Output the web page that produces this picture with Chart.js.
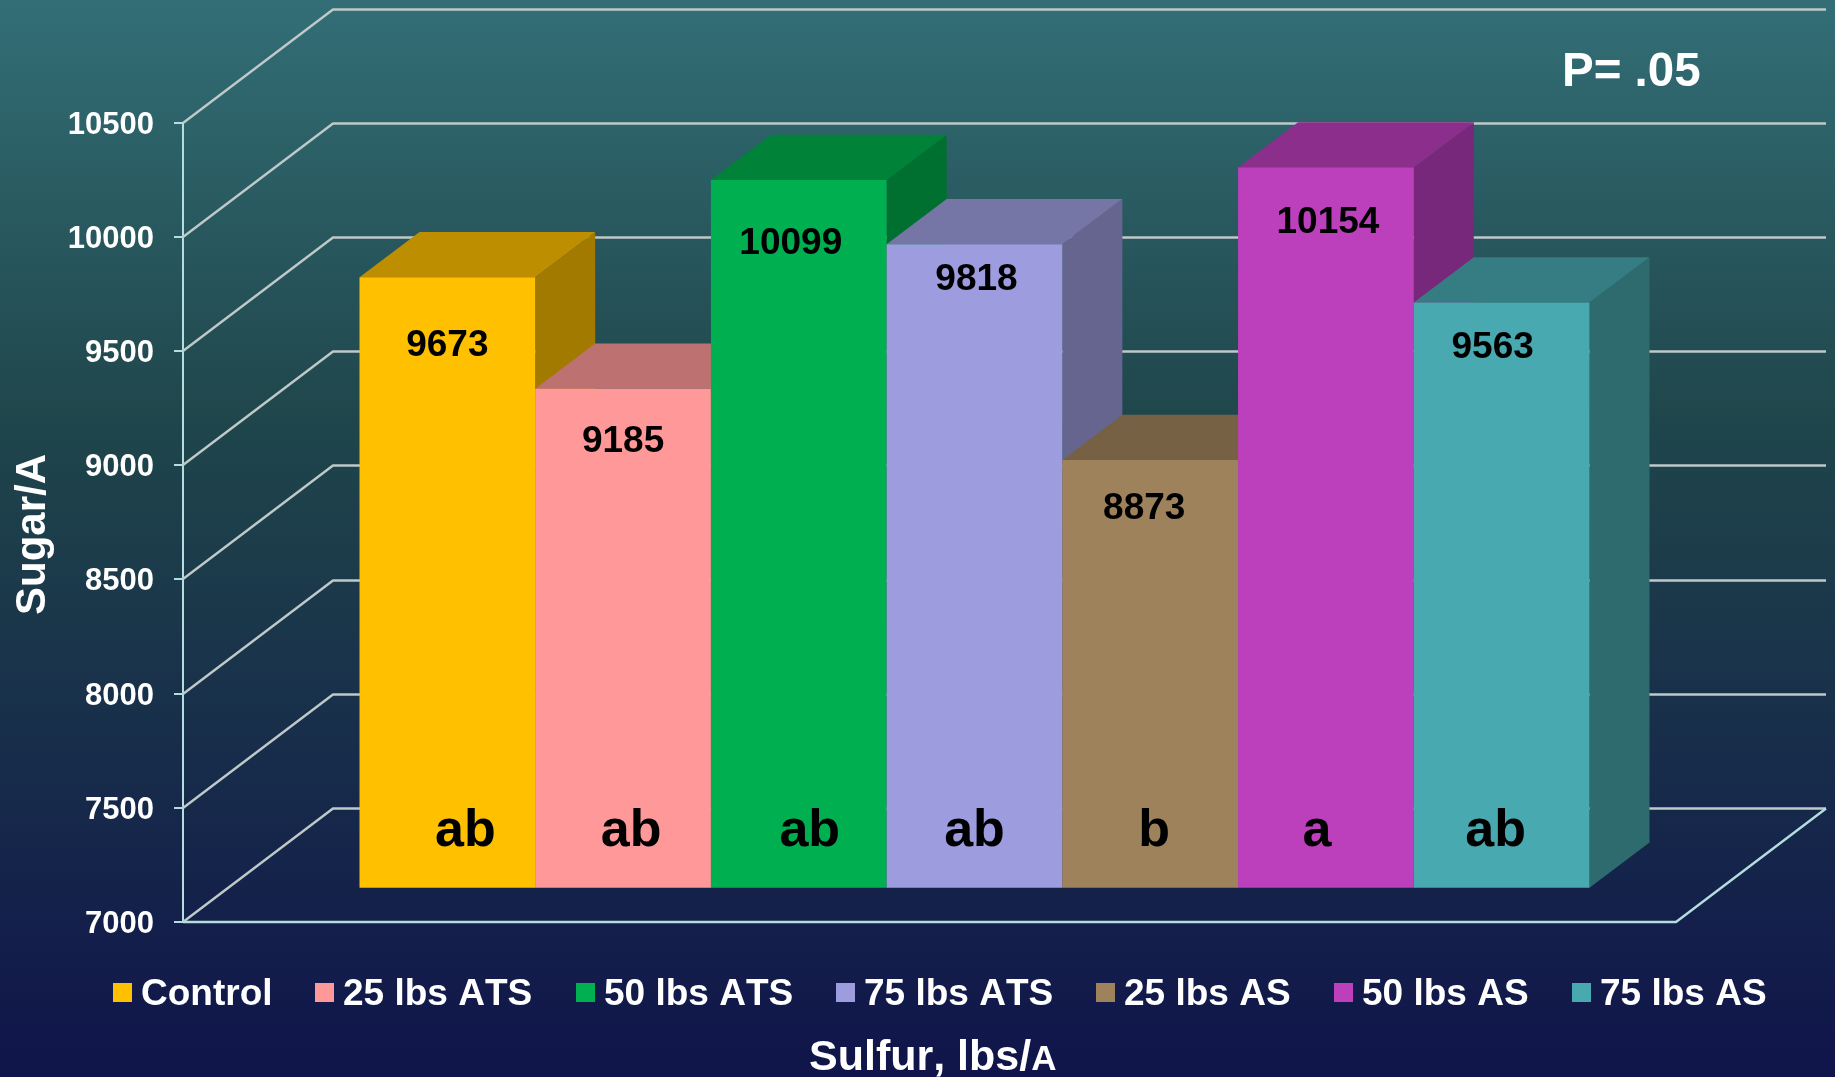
<!DOCTYPE html>
<html>
<head>
<meta charset="utf-8">
<style>html,body{margin:0;padding:0;background:#10144a;overflow:hidden}canvas{display:block}</style>
<script src="https://cdn.jsdelivr.net/npm/chart.js"></script>
</head>
<body>
<canvas id="c" width="1835" height="1077"></canvas>
<script>
const categories = ['Sulfur, lbs/A'];
const seriesNames = ['Control', '25 lbs ATS', '50 lbs ATS', '75 lbs ATS', '25 lbs AS', '50 lbs AS', '75 lbs AS'];
const seriesValues = [9673, 9185, 10099, 9818, 8873, 10154, 9563];
const significance = ['ab', 'ab', 'ab', 'ab', 'b', 'a', 'ab'];
const yTicks = [7000, 7500, 8000, 8500, 9000, 9500, 10000, 10500];

const frontColors = ['#FFC000', '#FF9999', '#00B050', '#9C9CDF', '#9E825C', '#BC40BC', '#48A9B0'];
const topColors   = ['#BD8E00', '#BD7171', '#008239', '#7676A6', '#776144', '#8C2F8C', '#357D82'];
const sideColors  = ['#A37A00', '#A36262', '#007030', '#65658F', '#66543B', '#78287A', '#2E6B6E'];
const valueDx   = [0, 0, -8, 2, -6, 2, -9];
const valueDrop = [66, 50, 61, 33, 46, 53, 43];
const letterDx  = [18, 8, 11, 0, 4, -9, -6];
const legendBoxX = [113, 315, 576, 836, 1096, 1334, 1572];

const FONT = '"Liberation Sans", Arial, sans-serif';
const WALL_DX = 150, WALL_DY = 113.5, BAR_DX = 60, BAR_DY = 45.3;
const FLOOR_RIGHT = 1676, GRID = '#BFC9C9', AXIS = '#B5DDDF';

function line(ctx, pts, color, w) {
  ctx.beginPath();
  pts.forEach((p, i) => i ? ctx.lineTo(p[0], p[1]) : ctx.moveTo(p[0], p[1]));
  ctx.strokeStyle = color; ctx.lineWidth = w; ctx.lineJoin = 'miter'; ctx.stroke();
}
function poly(ctx, pts, color) {
  ctx.beginPath();
  pts.forEach((p, i) => i ? ctx.lineTo(p[0], p[1]) : ctx.moveTo(p[0], p[1]));
  ctx.closePath(); ctx.fillStyle = color; ctx.fill();
}

const decor = {
  id: 'decor',
  beforeDraw(chart) {
    const { ctx, width, height } = chart;
    const g = ctx.createLinearGradient(0, 0, 0, height);
    g.addColorStop(0, '#336E76');
    g.addColorStop(0.39, '#1F464B');
    g.addColorStop(1, '#10144A');
    ctx.fillStyle = g; ctx.fillRect(0, 0, width, height);
  },
  beforeDatasetsDraw(chart) {
    const { ctx, scales: { y } } = chart;
    const x0 = y.right;
    yTicks.forEach(v => {
      const py = Math.round(y.getPixelForValue(v));
      line(ctx, [[x0, py], [x0 + WALL_DX, py - WALL_DY], [FLOOR_RIGHT + WALL_DX, py - WALL_DY]], GRID, 2.4);
    });
    const yb = y.getPixelForValue(yTicks[0]);
    line(ctx, [[x0, yb], [FLOOR_RIGHT, yb], [FLOOR_RIGHT + WALL_DX, yb - WALL_DY]], AXIS, 2.4);
  },
  // Bars are painted left to right so each front face overlaps its left neighbour's depth faces.
  beforeDatasetDraw() { return false; },
  afterDatasetsDraw(chart) {
    const { ctx } = chart;
    seriesValues.forEach((v, i) => {
      const meta = chart.getDatasetMeta(i);
      const bar = meta.data[0];
      const l = bar.x - bar.width / 2, r = bar.x + bar.width / 2, t = bar.y, b = bar.base;
      poly(ctx, [[r, t], [r + BAR_DX, t - BAR_DY], [r + BAR_DX, b - BAR_DY], [r, b]], sideColors[i]);
      poly(ctx, [[l, t], [l + BAR_DX, t - BAR_DY], [r + BAR_DX, t - BAR_DY], [r, t]], topColors[i]);
      meta.controller.draw();
    });
    ctx.save();
    ctx.textBaseline = 'alphabetic';
    ctx.textAlign = 'center';
    seriesValues.forEach((v, i) => {
      const bar = chart.getDatasetMeta(i).data[0];
      ctx.fillStyle = '#000';
      ctx.font = 'bold 37px ' + FONT;
      ctx.fillText(String(v), bar.x + valueDx[i], bar.y + valueDrop[i] + 13);
      ctx.font = 'bold 52px ' + FONT;
      ctx.fillText(significance[i], bar.x + letterDx[i], 846);
    });
    // P value
    ctx.fillStyle = '#fff';
    ctx.textAlign = 'left';
    ctx.font = 'bold 47.5px ' + FONT;
    ctx.fillText('P= .05', 1562, 86);
    // legend
    ctx.fontKerning = 'none';
    ctx.font = 'bold 37px ' + FONT;
    seriesNames.forEach((n, i) => {
      ctx.fillStyle = frontColors[i];
      ctx.fillRect(legendBoxX[i], 983, 19, 19);
      ctx.fillStyle = '#fff';
      ctx.fillText(n, legendBoxX[i] + 28, 1005);
    });
    // x title
    ctx.font = 'bold 43px ' + FONT;
    ctx.fillStyle = '#fff';
    const head = categories[0].slice(0, -1);
    ctx.fillText(head, 809, 1070);
    const w = ctx.measureText(head).width;
    ctx.font = 'bold 35px ' + FONT;
    ctx.fillText(categories[0].slice(-1), 809 + w, 1070);
    // y title
    ctx.save();
    ctx.translate(45, 615);
    ctx.rotate(-Math.PI / 2);
    ctx.font = 'bold 42px ' + FONT;
    ctx.fillText('Sugar/A', 0, 0);
    ctx.restore();
    ctx.restore();
  }
};

new Chart(document.getElementById('c'), {
  type: 'bar',
  data: {
    labels: categories,
    datasets: seriesNames.map((name, i) => ({
      label: name,
      data: [seriesValues[i]],
      backgroundColor: frontColors[i],
      yAxisID: 'yBars',
      base: yTicks[0]
    }))
  },
  options: {
    responsive: false,
    animation: false,
    layout: { padding: { left: 0, top: 122.7, right: 69, bottom: 155 } },
    plugins: { legend: { display: false }, title: { display: false }, tooltip: { enabled: false } },
    datasets: { bar: { categoryPercentage: 0.777, barPercentage: 1 } },
    scales: {
      x: { display: false },
      y: {
        position: 'left', min: 7000, max: 10500,
        afterFit(s) { s.width = 183; },
        afterBuildTicks(s) { s.ticks = yTicks.map(v => ({ value: v })); },
        grid: { drawOnChartArea: false, color: AXIS, lineWidth: 2, tickLength: 9 },
        border: { display: true, color: AXIS, width: 2 },
        ticks: {
          color: '#fff', font: { family: FONT, weight: 'bold', size: 31 }, padding: 20, autoSkip: false,
          labelOffset: 2.5,
          callback: v => String(v)
        }
      },
      yBars: { display: false, position: 'left', min: 6850, max: 10350 }
    }
  },
  plugins: [decor]
});
</script>
</body>
</html>
